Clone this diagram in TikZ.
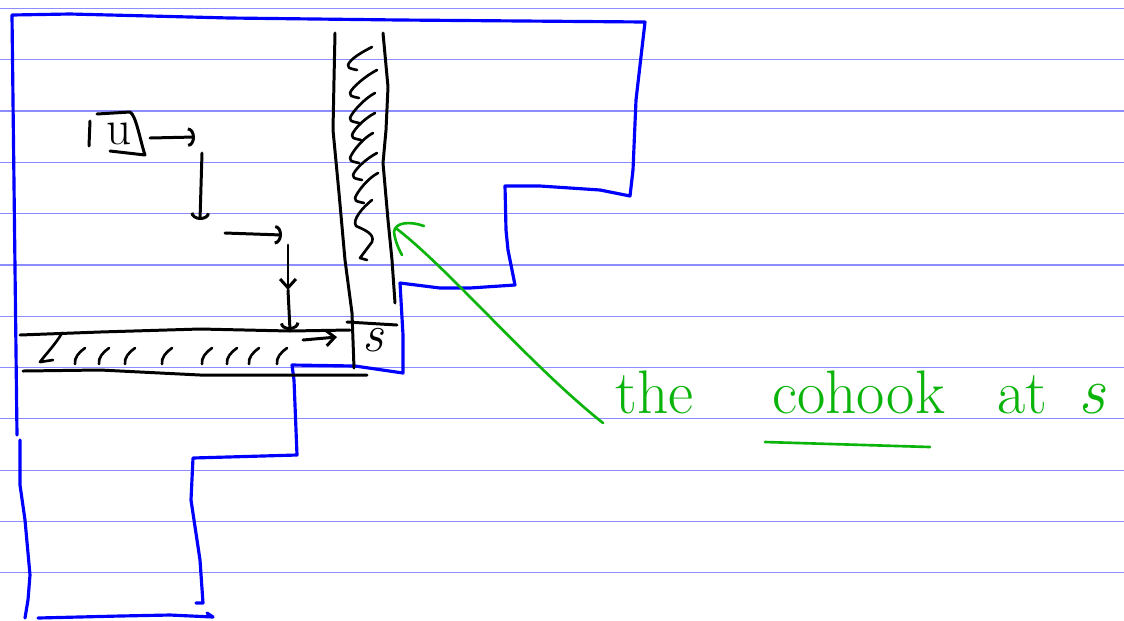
\documentclass[tikz,border=0pt]{standalone}
\usetikzlibrary{arrows.meta}
\definecolor{rulecol}{RGB}{140,140,255}
\definecolor{pencol}{RGB}{0,0,255}
\definecolor{grncol}{RGB}{10,180,10}
\begin{document}
\begin{tikzpicture}[x=0.02cm,y=-0.02cm, line cap=round, line join=round,
  ruled/.style={rulecol, line width=0.7pt},
  outline/.style={pencol, line width=1.8pt},
  ink/.style={black, line width=1.7pt},
  hatch/.style={black, line width=1.5pt},
  note/.style={grncol, line width=1.5pt},
  arctip/.style={-{Arc Barb[length=4pt,width=11pt]}},
  vtip/.style={-{Straight Barb[length=5pt,width=9pt]}},
  word/.style={grncol, anchor=base west, inner sep=0pt, font=\fontsize{35}{40}\selectfont}
]
\useasboundingbox (0,0) rectangle (1124,620);
\fill[white] (0,0) rectangle (1124,620);
\foreach \k in {0,...,11} \draw[ruled] (0,{8.4+51.3*\k}) -- (1124,{8.4+51.3*\k});

% blue outline
\draw[outline] (17,435) -- (13,100) -- (12,15) -- (70,14) -- (230,18) -- (400,20) -- (645,22)
  -- (636,100) -- (633,170) -- (630,196) -- (600,190) -- (540,186) -- (505,186)
  -- (506,230) -- (508,250) -- (515,285) -- (470,288) -- (440,288) -- (400,283)
  -- (403,335) -- (403,373) -- (355,366) -- (292,365) -- (294,380) -- (297,455)
  -- (193,458) -- (191,500) -- (200,560) -- (203,603) -- (196,603);
\draw[outline] (20,440) -- (20,485) -- (25,520) -- (30,575) -- (28,600) -- (25,618);
\draw[outline] (38,618) -- (120,616) -- (170,615) -- (213,617) -- (207,613);

% vertical strip
\draw[ink] (335,33) -- (334,80) -- (333,130) -- (339,193) -- (345,260) -- (352,313) -- (354,368);
\draw[ink] (383,33) -- (388,87) -- (386,130) -- (383,163) -- (388,220) -- (392,260) -- (395,303);
\foreach \ax/\ay/\bx/\by in {372/47/348/67, 377/70/350/95, 375/93/350/120, 375/113/352/137,
   373/133/350/160, 377/153/353/177, 378/173/355/200}
  \draw[hatch] (\ax,\ay) .. controls (\ax-10,\ay+5) and (\bx+2,\by-8) .. (\bx,\by-2)
    .. controls (\bx,\by+1) .. (\bx+9,\by+3);
\draw[hatch] (372,200) .. controls (362,208) and (352,220) .. (356,226)
  .. controls (365,230) and (375,234) .. (372,242) -- (360,258) -- (367,260);

% horizontal strip
\draw[ink] (20,335) -- (100,332) -- (200,329) -- (290,331) -- (350,330);
\draw[ink] (347,322) -- (397,325);
\draw[ink] (23,371) -- (100,370) -- (200,375) -- (367,375);
\draw[hatch] (62,333) .. controls (55,345) and (45,355) .. (40,362) -- (53,360);
\foreach \x in {78,102,128,165,205,230,252,280}
  \draw[hatch] (\x+7,348) .. controls (\x+1,352) and (\x-4,358) .. (\x-3,364);
\node[inner sep=0pt, font=\fontsize{30}{32}\selectfont\itshape] (s) at (373,340) {s};

% path from u
\node[inner sep=0pt, font=\fontsize{28}{30}\selectfont] (u) at (119,134) {u};
\draw[ink] (90,121) -- (89,146);
\draw[ink] (97,114) -- (130,112) .. controls (136,115) and (140,140) .. (145,155) -- (110,151);
\coordinate (a1) at (150,138); \coordinate (a2) at (195,137);
\coordinate (b1) at (202,153); \coordinate (b2) at (200,220);
\coordinate (c1) at (225,233); \coordinate (c2) at (282,235);
\coordinate (d1) at (288,245); \coordinate (d2) at (288,290); \coordinate (d3) at (290,330);
\coordinate (e1) at (303,340); \coordinate (e2) at (337,337);
\draw[ink, arctip] (a1) -- (a2);
\draw[ink, arctip] (b1) -- (b2);
\draw[ink, arctip] (c1) -- (c2);
\draw[ink, vtip] (d1) -- (d2);
\draw[ink, arctip] (d2) -- (d3);
\draw[ink, vtip] (e1) -- (e2);

% green annotation
\node[word] (the) at (615,413) {the};
\node[word] (cohook) at (772,413) {cohook};
\node[word] (at) at (997,413) {at};
\node[word, font=\fontsize{38}{40}\selectfont\itshape] (s2) at (1078,413) {s};
\draw[note] (765,442) -- (930,447);
\coordinate (tipg) at (397,229);
\coordinate (tailg) at (603,423);
\draw[note] (tailg) .. controls (530,365) and (450,270) .. (tipg);
\draw[note] (424,226) .. controls (410,221) and (395,222) .. (394,232)
  .. controls (395,240) and (398,248) .. (402,255);
\end{tikzpicture}
\end{document}
